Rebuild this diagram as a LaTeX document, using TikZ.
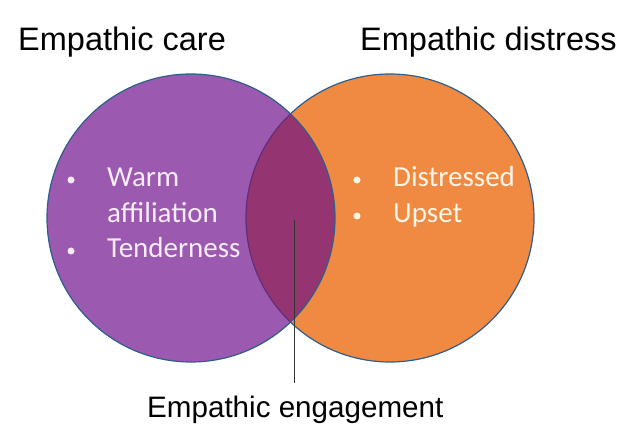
\documentclass[tikz,border=0pt]{standalone}
\usepackage{fontspec}
\setmainfont{Liberation Sans}
\newfontfamily\calfont{Carlito}
\definecolor{careC}{RGB}{155,89,176}
\definecolor{distC}{RGB}{240,138,66}
\definecolor{lensC}{RGB}{148,52,112}
\definecolor{lineC}{RGB}{46,94,140}
\definecolor{lensEdge}{RGB}{100,45,120}
\definecolor{txtL}{RGB}{248,236,250}
\definecolor{txtR}{RGB}{255,246,232}
\begin{document}
\begin{tikzpicture}[x=1pt,y=-1pt,
  heading/.style={font=\fontsize{32.5}{38}\selectfont, text=black, inner sep=0pt, anchor=base west},
  item/.style={font=\calfont\fontsize{29}{34}\selectfont, inner sep=0pt, anchor=base west},
  dot/.style={circle, inner sep=0pt, minimum size=7pt}]
\useasboundingbox (0,0) rectangle (642,438);
% circles
\fill[careC] (191,218) circle (144);
\fill[distC] (390,218) circle (144);
\begin{scope}
  \clip (191,218) circle (144);
  \fill[lensC] (390,218) circle (144);
  \draw[lensEdge, line width=1.2pt] (390,218) circle (144);
\end{scope}
\draw[lineC, line width=1.2pt] (191,218) circle (144);
\begin{scope}[even odd rule]
  \clip (0,0) rectangle (642,438) (191,218) circle (144);
  \draw[lineC, line width=1.2pt] (390,218) circle (144);
\end{scope}
\node[circle, draw=none, minimum size=288pt, inner sep=0pt] (care) at (191,218) {};
\node[circle, draw=none, minimum size=288pt, inner sep=0pt] (dist) at (390,218) {};
% headings
\node[heading] (hcare) at (18,51) {Empathic care};
\node[heading] (hdist) at (360,51) {Empathic distress};
\node[heading, font=\fontsize{29.6}{36}\selectfont] (heng) at (147,417) {Empathic engagement};
% items left
\node[dot, fill=txtL] (b1) at (71,180) {};
\node[dot, fill=txtL] (b2) at (71,251) {};
\node[item, text=txtL] (t1) at (107,187) {Warm};
\node[item, text=txtL] (t2) at (107,223) {affiliation};
\node[item, text=txtL] (t3) at (107,258) {Tenderness};
% items right
\node[dot, fill=txtR] (b3) at (357,180) {};
\node[dot, fill=txtR] (b4) at (357,216) {};
\node[item, text=txtR] (t4) at (393,187) {Distressed};
\node[item, text=txtR] (t5) at (393,223) {Upset};
% connector
\coordinate (lensPt) at (294,220);
\coordinate (engTop) at (294,383);
\draw[black!80, line width=0.9pt] (lensPt) -- (engTop);
\end{tikzpicture}
\end{document}
